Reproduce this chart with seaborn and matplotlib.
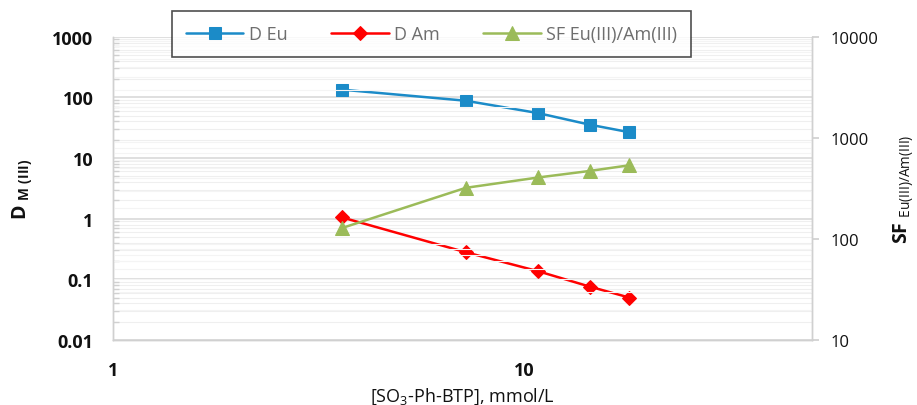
import numpy as np
import pandas as pd
import matplotlib
matplotlib.use("Agg")
import matplotlib.pyplot as plt
from matplotlib.ticker import LogLocator, FixedLocator, NullFormatter, FixedFormatter
import seaborn as sns

# ---- data ----
conc = [3.6, 7.2, 10.8, 14.4, 18.0]
d_eu = [134, 88, 55, 35.5, 26.6]
d_am = [1.05, 0.28, 0.136, 0.076, 0.050]
sf = [128, 320, 405, 470, 535]

x_ticks = [1, 10]
y_left_ticks = [0.01, 0.1, 1, 10, 100, 1000]
y_right_ticks = [10, 100, 1000, 10000]

sns.set_theme(style="white")
plt.rcParams['font.family'] = ['Open Sans', 'DejaVu Sans']
plt.rcParams['mathtext.fontset'] = 'custom'
plt.rcParams['mathtext.rm'] = 'Open Sans'
plt.rcParams['mathtext.bf'] = 'Open Sans:bold'

blue = "#1B8BC8"
red = "#FF0000"
green = "#9BBB59"
spine_c = "#D0D0D0"

df = pd.DataFrame({"conc": conc, "D Eu": d_eu, "D Am": d_am, "SF": sf})

fig = plt.figure(figsize=(9.17, 4.06), dpi=100)
ax = fig.add_axes([113/917, 1-341/406, (812-113)/917, (341-37.7)/406])
ax2 = ax.twinx()

sns.lineplot(data=df, x="conc", y="D Eu", ax=ax, color=blue, marker="s",
             markersize=9, markeredgecolor=blue, linewidth=1.8, label="D Eu", legend=False)
sns.lineplot(data=df, x="conc", y="D Am", ax=ax, color=red, marker="D",
             markersize=7.5, markeredgecolor=red, linewidth=1.8, label="D Am", legend=False)
sns.lineplot(data=df, x="conc", y="SF", ax=ax2, color=green, marker="^",
             markersize=10, markeredgecolor=green, linewidth=1.8,
             label="SF Eu(III)/Am(III)", legend=False)

ax.set_xscale("log")
ax.set_yscale("log")
ax2.set_yscale("log")
ax.set_xlim(1, 50)
ax.set_ylim(0.01, 1000)
ax2.set_ylim(10, 10000)

# x ticks
ax.xaxis.set_major_locator(FixedLocator(x_ticks))
ax.xaxis.set_major_formatter(FixedFormatter([str(t) for t in x_ticks]))
ax.xaxis.set_minor_locator(LogLocator(base=10, subs=np.arange(2, 10)))
ax.xaxis.set_minor_formatter(NullFormatter())
ax.tick_params(axis="x", which="both", direction="in", length=5, color=spine_c,
               pad=15, labelsize=13, labelcolor="#111111")
for lab in ax.get_xticklabels():
    lab.set_fontweight("bold")

# left y ticks
ax.yaxis.set_major_locator(FixedLocator(y_left_ticks))
ax.yaxis.set_major_formatter(FixedFormatter(["0.01", "0.1", "1", "10", "100", "1000"]))
ax.yaxis.set_minor_locator(LogLocator(base=10, subs=np.arange(2, 10)))
ax.yaxis.set_minor_formatter(NullFormatter())
ax.tick_params(axis="y", which="major", direction="in", length=0, pad=14,
               labelsize=13, labelcolor="#111111")
ax.tick_params(axis="y", which="minor", direction="in", length=4, color=spine_c)
for lab in ax.get_yticklabels():
    lab.set_fontweight("bold")

# right y ticks
ax2.yaxis.set_major_locator(FixedLocator(y_right_ticks))
ax2.yaxis.set_major_formatter(FixedFormatter(["10", "100", "1000", "10000"]))
ax2.yaxis.set_minor_locator(LogLocator(base=10, subs=np.arange(2, 10)))
ax2.yaxis.set_minor_formatter(NullFormatter())
ax2.tick_params(axis="y", which="major", direction="out", length=5, color=spine_c,
                pad=8, labelsize=12, labelcolor="#111111")
ax2.tick_params(axis="y", which="minor", length=0)

# grid
ax.grid(True, which="major", axis="y", color="#D9D9D9", linewidth=1.2)
ax.grid(True, which="minor", axis="y", color="#EFEFEF", linewidth=0.8)
ax2.grid(True, which="minor", axis="y", color="#F4F4F4", linewidth=0.8)
ax.set_axisbelow(True)
ax2.set_axisbelow(True)

for a in (ax, ax2):
    a.spines["top"].set_visible(False)
    for s in ("left", "bottom", "right"):
        a.spines[s].set_color(spine_c)
        a.spines[s].set_linewidth(1.0)

ax.set_xlabel("[SO$_3$-Ph-BTP], mmol/L", fontsize=13, color="#111111", labelpad=5)
ax.set_ylabel(r"D $_{\mathbf{M\ (III)}}$", fontsize=14, fontweight="bold",
              color="#111111", labelpad=12)
ax2.set_ylabel(r"SF $_{\mathrm{Eu(III)/Am(III)}}$", fontsize=14, fontweight="bold",
               color="#111111", labelpad=10)

h1, l1 = ax.get_legend_handles_labels()
h2, l2 = ax2.get_legend_handles_labels()
leg = fig.legend(h1 + h2, l1 + l2, ncol=3, loc="center",
                 bbox_to_anchor=((178 + 685) / 2 / 917, 1 - 35 / 406),
                 frameon=True, fancybox=False, edgecolor="#222222",
                 fontsize=13, handlelength=3.2, columnspacing=2.4,
                 borderpad=0.75, handletextpad=0.3)
leg.get_frame().set_linewidth(1.2)
for t in leg.get_texts():
    t.set_color("#6E6E6E")

fig.savefig("out.png", dpi=100)
